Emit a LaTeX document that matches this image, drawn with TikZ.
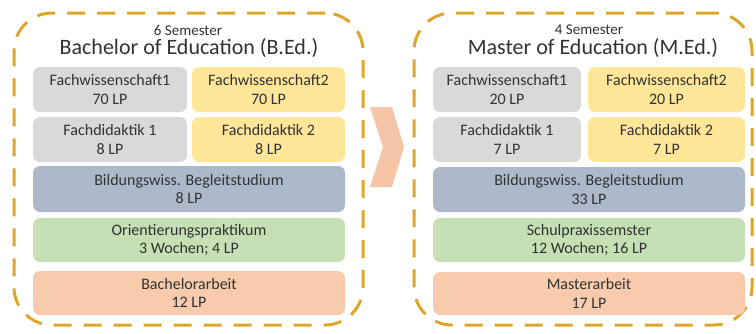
\documentclass[tikz,border=0pt]{standalone}
\usepackage{fontspec}
\setmainfont{Carlito}
\definecolor{framec}{RGB}{222,166,40}
\definecolor{cgray}{RGB}{217,217,217}
\definecolor{cyel}{RGB}{255,230,153}
\definecolor{cblue}{RGB}{173,185,202}
\definecolor{cgreen}{RGB}{197,224,180}
\definecolor{corange}{RGB}{248,203,173}
\definecolor{cchev}{RGB}{246,196,166}
\definecolor{txt}{RGB}{50,50,50}
\tikzset{
  frameline/.style={draw=framec, line width=3pt, dash pattern=on 18pt off 12pt, rounded corners=38pt, inner sep=0pt, outer sep=0pt},
  box/.style={rounded corners=7pt, inner sep=0pt, outer sep=0pt, align=center, text=txt, font=\fontsize{16}{18.5}\selectfont},
  semtext/.style={text=txt, inner sep=0pt, font=\fontsize{15}{17}\selectfont},
  titletext/.style={text=txt, inner sep=0pt, font=\fontsize{22}{25}\selectfont},
}
\begin{document}
\begin{tikzpicture}[x=1pt,y=-1pt]
\useasboundingbox (0,0) rectangle (756,333);
% frames
\node[frameline, minimum width=349pt, minimum height=312pt] (bframe) at (188.5,169) {};
\node[frameline, minimum width=338pt, minimum height=312pt] (mframe) at (583,169) {};
% chevron
\fill[cchev] (370,107) -- (392,107) -- (404,147) -- (392,187) -- (370,187) -- (383,147) -- cycle;
% Bachelor titles
\node[semtext] (bsem) at (188,30) {6 Semester};
\node[titletext] (btitle) at (189,48) {Bachelor of Education (B.Ed.)};
% Bachelor boxes
\node[box, fill=cgray, minimum width=154pt, minimum height=45pt] (bfw1) at (110,89.5) {Fachwissenschaft1\\70 LP};
\node[box, fill=cyel, minimum width=153pt, minimum height=45pt] (bfw2) at (268.5,89.5) {Fachwissenschaft2\\70 LP};
\node[box, fill=cgray, minimum width=154pt, minimum height=45pt] (bfd1) at (110,139.5) {Fachdidaktik 1\\8 LP};
\node[box, fill=cyel, minimum width=153pt, minimum height=45pt] (bfd2) at (268.5,139.5) {Fachdidaktik 2\\8 LP};
\node[box, fill=cblue, minimum width=312pt, minimum height=46pt] (bbild) at (189,189) {Bildungswiss. Begleitstudium\\8 LP};
\node[box, fill=cgreen, minimum width=312pt, minimum height=44pt] (borient) at (189,240) {Orientierungspraktikum\\3 Wochen; 4 LP};
\node[box, fill=corange, minimum width=312pt, minimum height=44pt] (bba) at (189,293) {Bachelorarbeit\\12 LP};
% Master titles
\node[semtext] (msem) at (589,30) {4 Semester};
\node[titletext] (mtitle) at (593,48) {Master of Education (M.Ed.)};
% Master boxes
\node[box, fill=cgray, minimum width=148pt, minimum height=45pt] (mfw1) at (507,89.5) {Fachwissenschaft1\\20 LP};
\node[box, fill=cyel, minimum width=157pt, minimum height=45pt] (mfw2) at (666.5,89.5) {Fachwissenschaft2\\20 LP};
\node[box, fill=cgray, minimum width=148pt, minimum height=45pt] (mfd1) at (507,139.5) {Fachdidaktik 1\\7 LP};
\node[box, fill=cyel, minimum width=157pt, minimum height=45pt] (mfd2) at (666.5,139.5) {Fachdidaktik 2\\7 LP};
\node[box, fill=cblue, minimum width=312pt, minimum height=45pt] (mbild) at (589,189.5) {Bildungswiss. Begleitstudium\\33 LP};
\node[box, fill=cgreen, minimum width=312pt, minimum height=44pt] (mschul) at (589,240) {Schulpraxissemster\\12 Wochen; 16 LP};
\node[box, fill=corange, minimum width=312pt, minimum height=43pt] (mma) at (589,293.5) {Masterarbeit\\17 LP};
\end{tikzpicture}
\end{document}
